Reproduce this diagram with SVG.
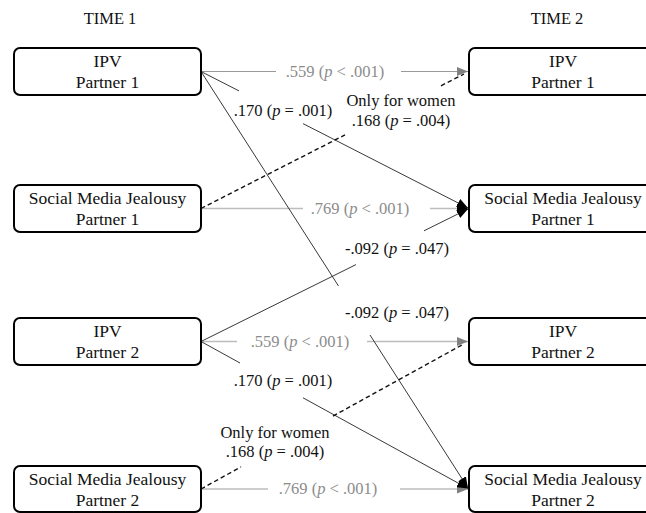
<svg xmlns="http://www.w3.org/2000/svg" width="646" height="513" viewBox="0 0 646 513">
<defs>
<style>
.box{fill:#fff;stroke:#000;stroke-width:2}
.t{font-family:"Liberation Serif","Times New Roman",serif;font-size:17.5px;fill:#111;text-anchor:middle}
.hd{font-family:"Liberation Serif","Times New Roman",serif;font-size:16.5px;fill:#111;text-anchor:middle}
.lb{font-family:"Liberation Serif","Times New Roman",serif;font-size:16.5px;fill:#111;text-anchor:middle}
.lg{fill:#8c8c8c}
.gl{fill:none;stroke:#9a9a9a;stroke-width:1.2}
.gl2{fill:none;stroke:#bdbdbd;stroke-width:1.4}
.bl{fill:none;stroke:#222;stroke-width:0.9}
.dl{fill:none;stroke:#111;stroke-width:1.4;stroke-dasharray:4.5,3}
</style>
<marker id="ag" markerUnits="userSpaceOnUse" markerWidth="11" markerHeight="9" refX="11" refY="4.5" orient="auto"><path d="M0,0 L11,4.5 L0,9 z" fill="#808080"/></marker>
<marker id="ab" markerUnits="userSpaceOnUse" markerWidth="11" markerHeight="9" refX="11" refY="4.5" orient="auto"><path d="M0,0 L11,4.5 L0,9 z" fill="#000"/></marker>
</defs>
<text class="hd" x="110" y="24">TIME 1</text>
<text class="hd" x="557" y="24">TIME 2</text>
<g id="connectors">
<path id="c-ipv1" class="gl" d="M201,71.5 L276,71.5 M401,71.5 L468,71.5" marker-end="url(#ag)"/>
<path id="c-smj1" class="gl2" d="M201,208.5 L303,208.5 M430,208.5 L468,208.5" marker-end="url(#ab)"/>
<path id="c-ipv2" class="gl2" d="M201,341.5 L237,341.5 M367,341.5 L468,341.5" marker-end="url(#ag)"/>
<path id="c-smj2" class="gl2" d="M201,489 L268,489 M400,489 L468,489" marker-end="url(#ag)"/>
<path id="c-e" class="bl" d="M201,71.5 L239,90.9 M303,123.6 L468,208" marker-end="url(#ab)"/>
<path id="c-f" class="bl" d="M201,71.5 L338.5,286 M370,335 L468,488" marker-end="url(#ab)"/>
<path id="c-g" class="bl" d="M201,341.5 L356,264.6 M424,230.8 L468,209" marker-end="url(#ab)"/>
<path id="c-h" class="bl" d="M201,341.5 L240,363 M303,397.8 L468,488.5" marker-end="url(#ab)"/>
<path id="c-i" class="dl" d="M201,208.5 L345,134.9 M441,85.8 L464,74"/>
<path id="c-j" class="dl" d="M201,489 L241,466.9 M333,416.1 L464,343.8"/>
<text class="lb lg" x="335" y="77">.559 (<tspan font-style="italic">p</tspan> &lt; .001)</text>
<text class="lb" x="283" y="115.5">.170 (<tspan font-style="italic">p</tspan> = .001)</text>
<text class="lb" x="401" y="105.5">Only for women</text>
<text class="lb" x="401" y="125.5">.168 (<tspan font-style="italic">p</tspan> = .004)</text>
<text class="lb lg" x="360" y="214">.769 (<tspan font-style="italic">p</tspan> &lt; .001)</text>
<text class="lb" x="397" y="253.5">-.092 (<tspan font-style="italic">p</tspan> = .047)</text>
<text class="lb" x="397" y="318">-.092 (<tspan font-style="italic">p</tspan> = .047)</text>
<text class="lb lg" x="300" y="347">.559 (<tspan font-style="italic">p</tspan> &lt; .001)</text>
<text class="lb" x="283" y="385.5">.170 (<tspan font-style="italic">p</tspan> = .001)</text>
<text class="lb" x="275" y="437.5">Only for women</text>
<text class="lb" x="275" y="456.5">.168 (<tspan font-style="italic">p</tspan> = .004)</text>
<text class="lb lg" x="328" y="494">.769 (<tspan font-style="italic">p</tspan> &lt; .001)</text>
</g>
<g id="n-ipv1-t1"><rect class="box" x="14" y="48" width="187" height="47" rx="6"/><text class="t" x="107.5" y="67">IPV</text><text class="t" x="107.5" y="88">Partner 1</text></g>
<g id="n-smj1-t1"><rect class="box" x="14" y="185" width="187" height="47" rx="6"/><text class="t" x="107.5" y="204">Social Media Jealousy</text><text class="t" x="107.5" y="225">Partner 1</text></g>
<g id="n-ipv2-t1"><rect class="box" x="14" y="318" width="187" height="47" rx="6"/><text class="t" x="107.5" y="337">IPV</text><text class="t" x="107.5" y="358">Partner 2</text></g>
<g id="n-smj2-t1"><rect class="box" x="14" y="466" width="187" height="46" rx="6"/><text class="t" x="107.5" y="485">Social Media Jealousy</text><text class="t" x="107.5" y="506">Partner 2</text></g>
<g id="n-ipv1-t2"><rect class="box" x="469" y="48" width="192" height="47" rx="6"/><text class="t" x="563" y="67">IPV</text><text class="t" x="563" y="88">Partner 1</text></g>
<g id="n-smj1-t2"><rect class="box" x="469" y="185" width="192" height="47" rx="6"/><text class="t" x="563" y="204">Social Media Jealousy</text><text class="t" x="563" y="225">Partner 1</text></g>
<g id="n-ipv2-t2"><rect class="box" x="469" y="318" width="192" height="47" rx="6"/><text class="t" x="563" y="337">IPV</text><text class="t" x="563" y="358">Partner 2</text></g>
<g id="n-smj2-t2"><rect class="box" x="469" y="466" width="192" height="46" rx="6"/><text class="t" x="563" y="485">Social Media Jealousy</text><text class="t" x="563" y="506">Partner 2</text></g>
</svg>
